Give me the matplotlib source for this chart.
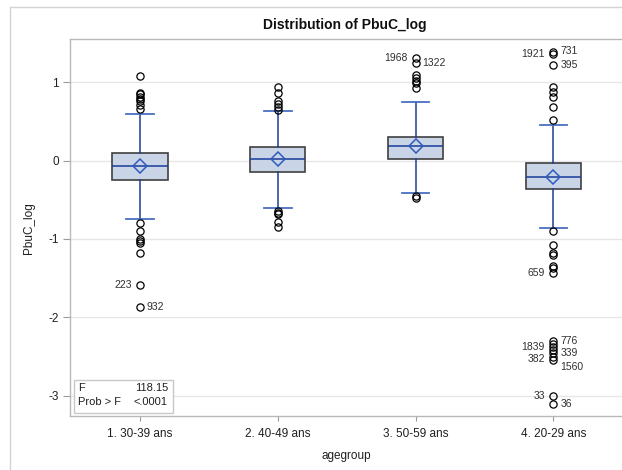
import matplotlib
matplotlib.use("Agg")
import matplotlib.pyplot as plt
from matplotlib.patches import Rectangle
from matplotlib.lines import Line2D

plt.rcParams['font.family'] = ['Liberation Sans', 'DejaVu Sans']

# ---------------- data ----------------
groups = ['1. 30-39 ans', '2. 40-49 ans', '3. 50-59 ans', '4. 20-29 ans']
q1 = [-0.25, -0.14, 0.026, -0.36]
median = [-0.072, 0.018, 0.188, -0.21]
q3 = [0.10, 0.175, 0.306, -0.026]
means = [-0.072, 0.018, 0.19, -0.21]
whisker_low = [-0.75, -0.60, -0.41, -0.86]
whisker_high = [0.59, 0.64, 0.75, 0.46]

outliers_g1 = [1.078, 0.868, 0.848, 0.817, 0.788, 0.758, 0.715, 0.66,
               -0.79, -0.90, -1.00, -1.03, -1.055, -1.18, -1.59, -1.87]
outliers_g2 = [0.945, 0.865, 0.762, 0.724, 0.68, 0.647,
               -0.642, -0.664, -0.68, -0.787, -0.85]
outliers_g3 = [1.315, 1.248, 1.10, 1.06, 1.02, 0.99, 0.925, -0.45, -0.48]
outliers_g4 = [1.388, 1.362, 1.222, 0.937, 0.877, 0.817, 0.686, 0.516,
               -0.90, -1.077, -1.175, -1.21, -1.34, -1.37, -1.43,
               -2.30, -2.345, -2.38, -2.42, -2.46, -2.51, -2.545, -3.00, -3.11]
outliers = [outliers_g1, outliers_g2, outliers_g3, outliers_g4]

label_group = [0, 0, 2, 2, 3, 3, 3, 3, 3, 3, 3, 3, 3, 3, 3]
label_ids = ['223', '932', '1968', '1322', '1921', '731', '395', '659',
             '776', '1839', '339', '382', '1560', '33', '36']
label_vals = [-1.59, -1.87, 1.315, 1.248, 1.362, 1.388, 1.222, -1.43,
              -2.30, -2.38, -2.46, -2.51, -2.545, -3.00, -3.11]
label_side = ['L', 'R', 'L', 'R', 'L', 'R', 'R', 'L',
              'R', 'L', 'R', 'L', 'R', 'L', 'R']
label_dy = [0, 0, 0, 0, 0, 1, 0, 0, 0, 0, 0, -1.5, -5, 0, 0]

f_value = '118.15'
p_value = '<.0001'

# ---------------- figure ----------------
W, H = 622, 470
fig = plt.figure(figsize=(W / 100, H / 100), dpi=100)

# outer light frame (only left and top edges fall inside the picture)
fx, fy = 9.5 / W, 1 - 6.5 / H
fig.add_artist(Line2D([fx, fx], [0, fy], transform=fig.transFigure,
                      color='#d4d4d4', linewidth=1.0))
fig.add_artist(Line2D([fx, 1], [fy, fy], transform=fig.transFigure,
                      color='#d4d4d4', linewidth=1.0))

ax_left, ax_right, ax_top, ax_bot = 70, 623, 39.3, 416
ax = fig.add_axes([ax_left / W, 1 - ax_bot / H,
                   (ax_right - ax_left) / W, (ax_bot - ax_top) / H])

box_fill = '#c9d5e6'
box_edge = '#404040'
line_blue = '#1a3c9c'
cap_blue = '#4a70c2'
diamond_blue = '#2f5cbd'

stats = []
for i in range(len(groups)):
    stats.append(dict(med=median[i], q1=q1[i], q3=q3[i], mean=means[i],
                      whislo=whisker_low[i], whishi=whisker_high[i],
                      fliers=outliers[i], label=groups[i]))

ax.bxp(stats, positions=range(len(groups)), widths=0.40, capwidths=0.20,
       showmeans=True, showfliers=True, patch_artist=True,
       boxprops=dict(facecolor=box_fill, edgecolor=box_edge, linewidth=1.2),
       medianprops=dict(color=line_blue, linewidth=1.1),
       whiskerprops=dict(color=line_blue, linewidth=1.1),
       capprops=dict(color=cap_blue, linewidth=1.3),
       meanprops=dict(marker='D', markerfacecolor='none',
                      markeredgecolor=diamond_blue, markersize=7,
                      markeredgewidth=1.1),
       flierprops=dict(marker='o', markerfacecolor='none',
                       markeredgecolor='black', markersize=5.2,
                       markeredgewidth=0.9))

for g, lid, v, side, dy in zip(label_group, label_ids, label_vals,
                               label_side, label_dy):
    dx = -6.0 if side == 'L' else 5.0
    ha = 'right' if side == 'L' else 'left'
    ax.annotate(lid, xy=(g, v), xytext=(dx, dy), textcoords='offset points',
                ha=ha, va='center', fontsize=7.5, color='#303030')

ax.set_xlim(-0.508, 3.505)
ax.set_ylim(-3.261, 1.55)
ax.set_yticks([-3, -2, -1, 0, 1])
ax.set_yticklabels(['-3', '-2', '-1', '0', '1'])
ax.set_xticks(range(len(groups)))
ax.set_xticklabels(groups)
ax.grid(axis='y', color='#e6e6e6', linewidth=1.0)
ax.set_axisbelow(True)

for s in ['left', 'bottom', 'top']:
    ax.spines[s].set_color('#b8b8b8')
    ax.spines[s].set_linewidth(1.0)
ax.spines['right'].set_visible(False)

ax.tick_params(axis='y', length=5, width=0.8, color='#9a9a9a',
               labelsize=8.5, pad=3, labelcolor='#202020')
ax.tick_params(axis='x', length=3.5, width=0.8, color='#9a9a9a',
               labelsize=8.5, pad=5, labelcolor='#202020')

ax.set_xlabel('agegroup', fontsize=8.5, color='#202020', labelpad=7)
ax.set_ylabel('PbuC_log', fontsize=8.5, color='#202020', labelpad=10)

fig.text(345 / W, 1 - 25 / H, 'Distribution of PbuC_log', ha='center',
         va='center', fontsize=10, fontweight='bold', color='#101010')

# stats inset
ax.add_patch(Rectangle((0.0078, 0.0088), 0.178, 0.087, transform=ax.transAxes,
                       facecolor='white', edgecolor='#c8c8c8', linewidth=1.0,
                       zorder=5))
ax.text(0.0145, 0.0743, 'F', transform=ax.transAxes, fontsize=8,
        va='center', ha='left', zorder=6, color='#202020')
ax.text(0.0145, 0.0372, 'Prob > F', transform=ax.transAxes, fontsize=8,
        va='center', ha='left', zorder=6, color='#202020')
ax.text(0.177, 0.0743, f_value, transform=ax.transAxes, fontsize=8,
        va='center', ha='right', zorder=6, color='#202020')
ax.text(0.177, 0.0372, p_value, transform=ax.transAxes, fontsize=8,
        va='center', ha='right', zorder=6, color='#202020')

fig.savefig('out.png', dpi=100)
